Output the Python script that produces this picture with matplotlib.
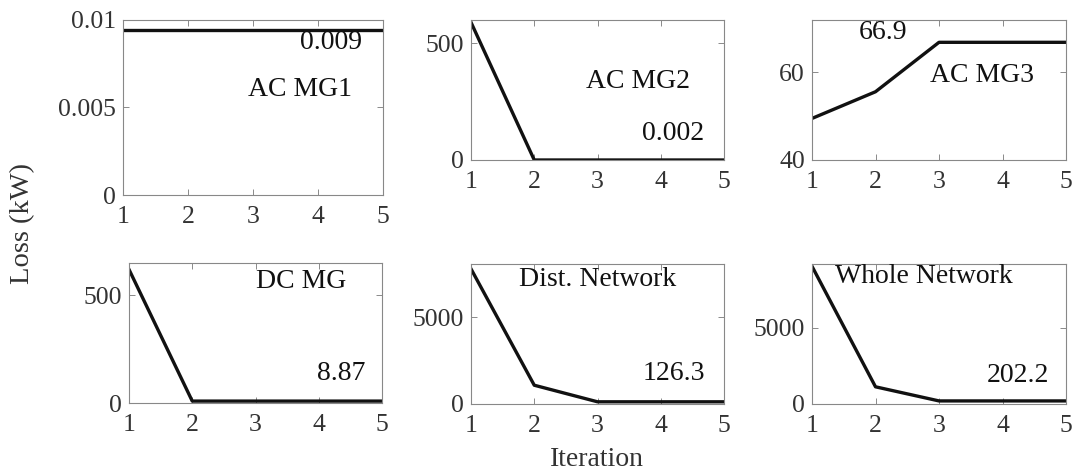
import matplotlib
matplotlib.use('Agg')
import matplotlib.pyplot as plt

plt.rcParams['font.family'] = ['Liberation Serif', 'DejaVu Serif']
plt.rcParams['font.size'] = 18

iteration = [1, 2, 3, 4, 5]

# loss values (kW) per subsystem
ac_mg1 = [0.0094, 0.0094, 0.0094, 0.0094, 0.0094]
ac_mg2 = [590, 0.002, 0.002, 0.002, 0.002]
ac_mg3 = [49.5, 55.6, 66.9, 66.9, 66.9]
dc_mg = [620, 8.87, 8.87, 8.87, 8.87]
dist_net = [7770, 1080, 126.3, 126.3, 126.3]
whole_net = [9050, 1130, 202.2, 202.2, 202.2]

names = ['AC MG1', 'AC MG2', 'AC MG3', 'DC MG', 'Dist. Network', 'Whole Network']
finals = ['0.009', '0.002', '66.9', '8.87', '126.3', '202.2']
series = [ac_mg1, ac_mg2, ac_mg3, dc_mg, dist_net, whole_net]
ylims = [(0, 0.01), (0, 600), (40, 72), (0, 650), (0, 8050), (0, 9200)]
yticks = [[0, 0.005, 0.01], [0, 500], [40, 60], [0, 500], [0, 5000], [0, 5000]]
yticklabels = [['0', '0.005', '0.01'], ['0', '500'], ['40', '60'],
               ['0', '500'], ['0', '5000'], ['0', '5000']]

W, H = 1078, 475
# axes boxes in pixels: left, top, right, bottom
boxes = [(123, 20, 383, 195), (471, 20, 724, 160), (812, 20, 1066, 160),
         (129, 263, 382, 403), (471, 264, 724, 404), (812, 264, 1066, 404)]
# label positions in axes fraction: (name x, name y, final x, final y)
label_pos = [(0.68, 0.60, 0.80, 0.87), (0.66, 0.56, 0.80, 0.19),
             (0.67, 0.60, 0.28, 0.91), (0.68, 0.87, 0.84, 0.21),
             (0.50, 0.89, 0.80, 0.22), (0.44, 0.91, 0.81, 0.20)]

fig = plt.figure(figsize=(W / 100, H / 100), dpi=100)

for i in range(6):
    l, t, r, b = boxes[i]
    ax = fig.add_axes([l / W, 1 - b / H, (r - l) / W, (b - t) / H])
    ax.plot(iteration, series[i], color='#111111', lw=2.4, solid_joinstyle='round')
    ax.set_xlim(1, 5)
    ax.set_ylim(*ylims[i])
    ax.set_xticks(iteration)
    ax.set_yticks(yticks[i])
    ax.set_yticklabels(yticklabels[i])
    ax.tick_params(direction='in', top=True, right=True, length=4, width=0.6,
                   color='#777777', labelcolor='#333333', labelsize=18.5)
    ax.tick_params(axis='x', pad=8)
    ax.tick_params(axis='y', pad=5)
    for s in ax.spines.values():
        s.set_color('#888888')
        s.set_linewidth(0.8)
    nx, ny, fx, fy = label_pos[i]
    ax.text(nx, ny, names[i], transform=ax.transAxes, ha='center', va='center',
            fontsize=20, color='#111111')
    ax.text(fx, fy, finals[i], transform=ax.transAxes, ha='center', va='center',
            fontsize=20, color='#111111')

fig.text(23 / W, 1 - 223 / H, 'Loss (kW)', rotation=90, ha='center', va='center',
         fontsize=20.5, color='#333333')
fig.text(597 / W, 1 - 459 / H, 'Iteration', ha='center', va='center',
         fontsize=20, color='#333333')

fig.savefig('out.png', dpi=100)
